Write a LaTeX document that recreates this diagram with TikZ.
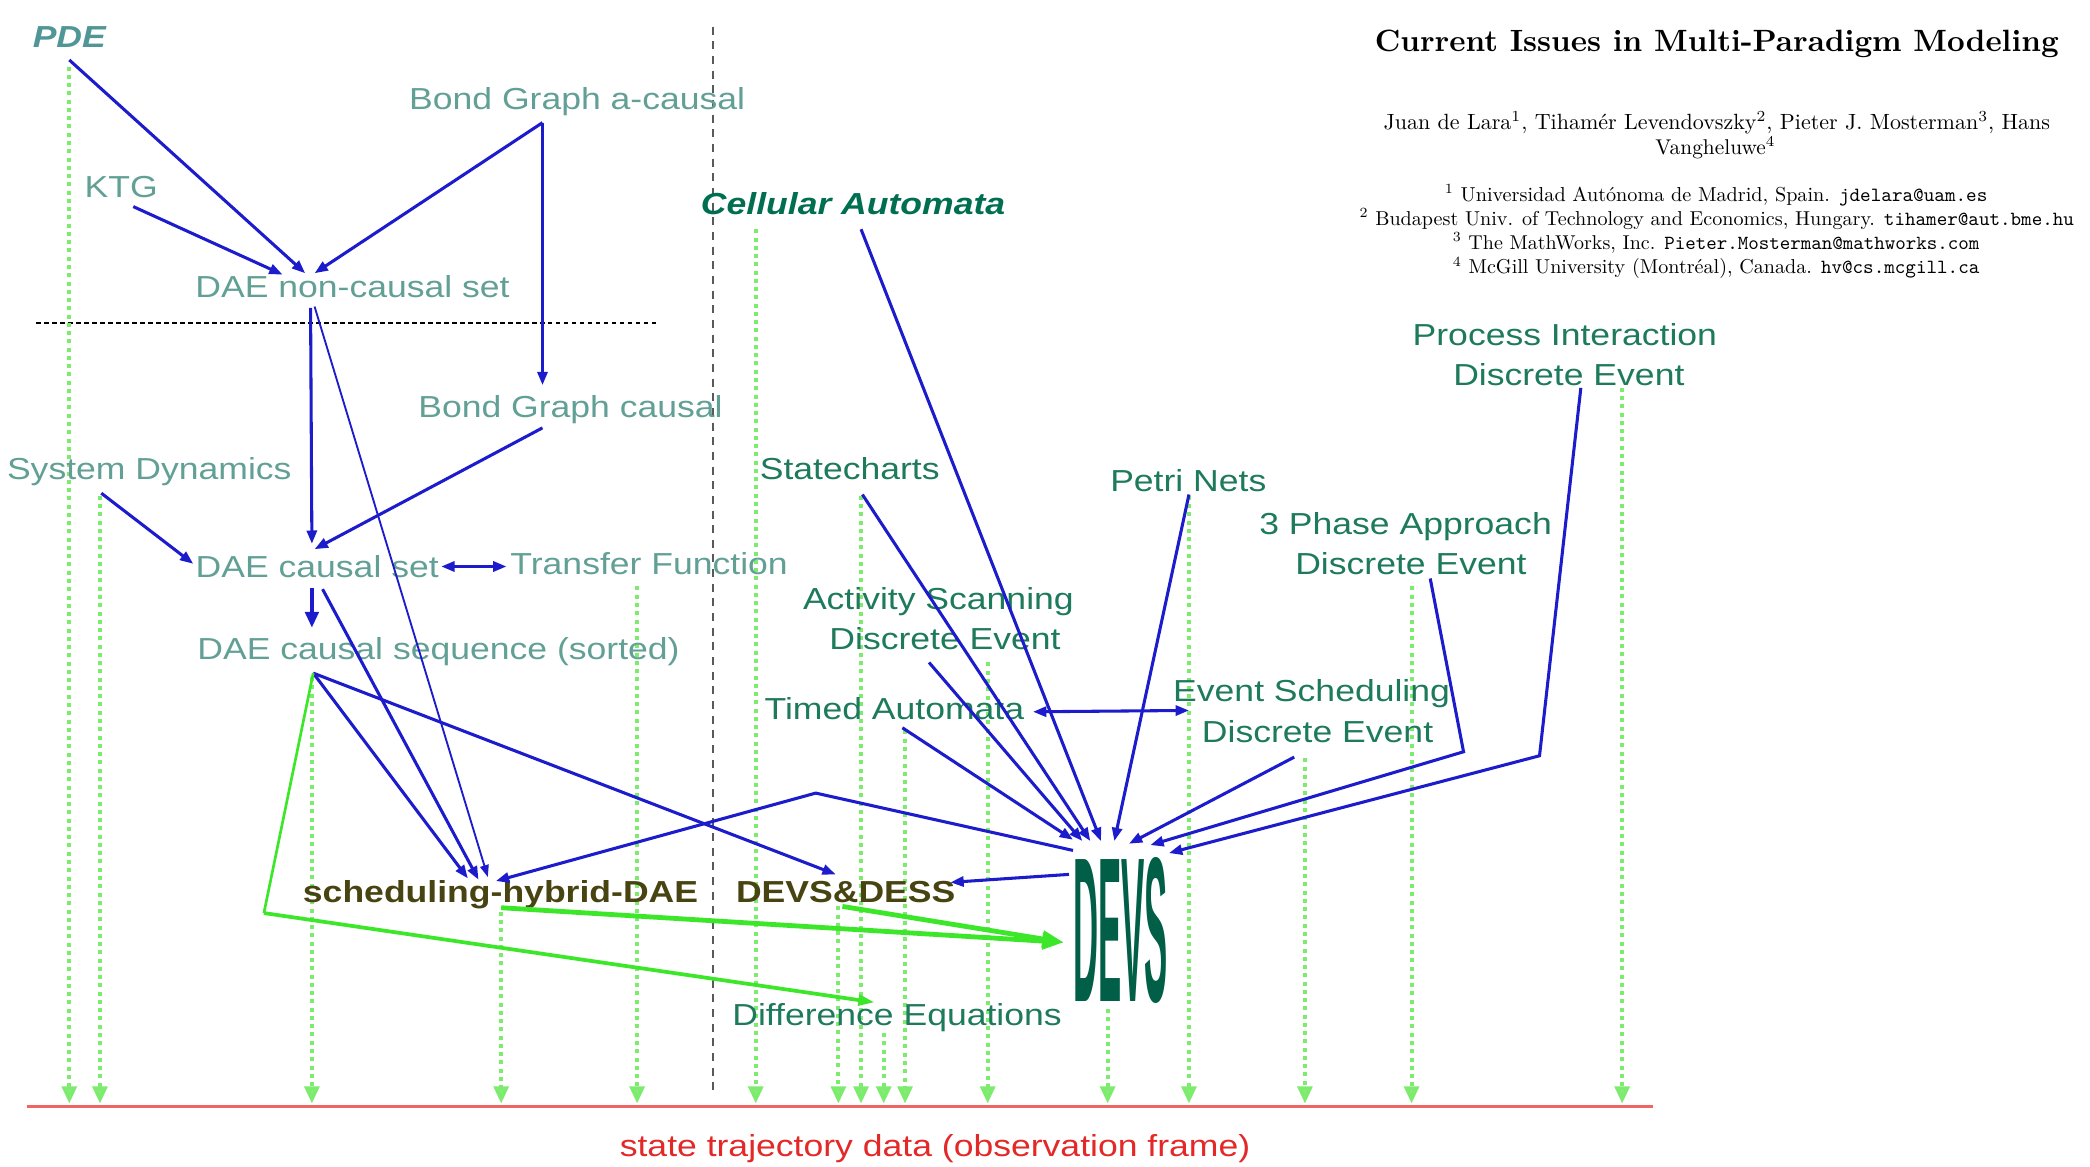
\documentclass[tikz,border=0pt]{standalone}
\usepackage{fontspec}
\usepackage{graphicx}
\usetikzlibrary{arrows.meta}
\newfontfamily\diagsans[FakeStretch=1.17]{Liberation Sans}

\definecolor{leftteal}{RGB}{98,160,150}
\definecolor{pdeteal}{RGB}{80,150,150}
\definecolor{rightgreen}{RGB}{30,122,92}
\definecolor{cagreen}{RGB}{0,110,80}
\definecolor{devsgreen}{RGB}{0,95,70}
\definecolor{hybolive}{RGB}{72,68,18}
\definecolor{arrblue}{RGB}{28,28,205}
\definecolor{brightgreen}{RGB}{60,230,40}
\definecolor{obsgreen}{RGB}{125,235,110}
\definecolor{obsred}{RGB}{240,100,100}
\definecolor{labred}{RGB}{228,40,40}

\tikzset{
  lbl/.style={inner sep=0pt, anchor=base, font=\diagsans\fontsize{22.8}{27}\selectfont},
  lft/.style={lbl, text=leftteal},
  rgt/.style={lbl, text=rightgreen},
  boldit/.style={font=\diagsans\fontsize{22.8}{27}\selectfont\bfseries\itshape},
  boldup/.style={font=\diagsans\fontsize{22.8}{27}\selectfont\bfseries},
  conn/.style={draw=arrblue, line width=2.3pt, -{Triangle[length=10pt,width=7.5pt]}},
  thinconn/.style={draw=arrblue, line width=1.4pt, -{Triangle[length=9pt,width=6.5pt]}},
  biconn/.style={draw=arrblue, line width=2.3pt, {Triangle[length=10pt,width=7.5pt]}-{Triangle[length=10pt,width=7.5pt]}},
  fatconn/.style={draw=arrblue, line width=3.6pt, -{Triangle[length=12pt,width=10pt]}},
  gline/.style={draw=brightgreen, line width=2pt},
  gconn/.style={draw=brightgreen, line width=2.8pt, -{Triangle[length=12pt,width=8pt]}},
  gfat/.style={draw=brightgreen, line width=3.6pt, -{Triangle[length=16pt,width=12pt]}},
  drop/.style={draw=obsgreen, line width=3pt, dash pattern=on 3pt off 3.2pt,
    -{Triangle[length=13pt,width=11pt,fill=obsgreen!90!white]}},
  tblock/.style={inner sep=0pt, anchor=base}
}

\begin{document}
\begin{tikzpicture}[x=1pt,y=-1pt]
\useasboundingbox (0,0) rectangle (1568,875.5);

% frame of observation and separators
\coordinate (frame-l) at (20,830);
\coordinate (frame-r) at (1240,830);
\draw[obsred, line width=2.6pt] (frame-l) -- (frame-r);
\coordinate (sep-top) at (535,20);
\coordinate (sep-bot) at (535,820);
\draw[black!65, line width=1.6pt, dash pattern=on 6pt off 5pt] (sep-top) -- (sep-bot);
\coordinate (cut-l) at (27,242);
\coordinate (cut-r) at (493,242);
\draw[black, line width=1.5pt, dash pattern=on 3.5pt off 2.5pt] (cut-l) -- (cut-r);

% projections onto the observation frame
\foreach \x/\y in {52/50, 75/372, 234/508, 376/684, 478/440, 567/172, 629/680,
                   646/372, 663/775, 679/548, 741/497, 831/757, 892/372,
                   979/569, 1059/440, 1217/291}
  \draw[drop] (\x,\y) -- (\x,828);

% continuous formalisms
\node[lft, boldit, text=pdeteal] (pde) at (52,36) {PDE};
\node[lft] (bga) at (433,82.5) {Bond Graph a-causal};
\node[lft] (ktg) at (91,148) {KTG};
\node[lft] (dnc) at (264.5,223) {DAE non-causal set};
\node[lft] (bgc) at (428,313) {Bond Graph causal};
\node[lft] (sd) at (112,360) {System Dynamics};
\node[lft] (dcs) at (238,433) {DAE causal set};
\node[lft] (tf) at (487,431) {Transfer Function};
\node[lft] (dseq) at (329,495) {DAE causal sequence (sorted)};

% discrete formalisms
\node[rgt, boldit, text=cagreen] (ca) at (640,161) {Cellular Automata};
\node[rgt] (sc) at (637.5,360) {Statecharts};
\node[rgt] (pn) at (891.5,369) {Petri Nets};
\node[rgt] (pi) at (1174,259) {Process Interaction};
\node[rgt] (pi2) at (1177,289) {Discrete Event};
\node[rgt] (tp) at (1054.5,401) {3 Phase Approach};
\node[rgt] (tp2) at (1058.5,431) {Discrete Event};
\node[rgt] (as) at (704,457.5) {Activity Scanning};
\node[rgt] (as2) at (709,487.5) {Discrete Event};
\node[rgt] (ta) at (671,540) {Timed Automata};
\node[rgt] (es) at (984,526.5) {Event Scheduling};
\node[rgt] (es2) at (988.5,557) {Discrete Event};
\node[rgt] (de) at (673,769) {Difference Equations};

% hybrid formalisms and DEVS
\node[lbl, boldup, text=hybolive] (shd) at (375.5,677) {scheduling-hybrid-DAE};
\node[lbl, boldup, text=hybolive] (dd) at (634.5,677) {DEVS\&DESS};
\node[inner sep=0pt, anchor=south west, text=devsgreen] (devs) at (805,753)
  {\resizebox{71pt}{108pt}{\diagsans\bfseries DEVS}};

\node[lbl, text=labred] (std) at (701.5,868) {state trajectory data (observation frame)};

% connector end points
\coordinate (pde-o) at (52,45);
\coordinate (ktg-o) at (100,155);
\coordinate (bga-o) at (407,92);
\coordinate (dnc-i1) at (229,205);
\coordinate (dnc-i2) at (212,206);
\coordinate (dnc-i3) at (236,205);
\coordinate (bgc-i) at (407,289);
\coordinate (dnc-o1) at (233,231);
\coordinate (dnc-o2) at (236,230);
\coordinate (dcs-i1) at (234,408);
\coordinate (bgc-o) at (407,321);
\coordinate (dcs-i2) at (236,412);
\coordinate (sd-o) at (76,370);
\coordinate (dcs-i3) at (145,423);
\coordinate (dcs-r) at (331,425);
\coordinate (tf-l) at (380,425);
\coordinate (dcs-o1) at (234,441);
\coordinate (dseq-i) at (234,471);
\coordinate (dcs-o2) at (242,442);
\coordinate (dseq-o) at (235,505);
\coordinate (shd-i1) at (351,659);
\coordinate (shd-i2) at (359,660);
\coordinate (shd-i3) at (366,658);
\coordinate (shd-i4) at (372,661);
\coordinate (dd-i1) at (627,656);
\coordinate (dd-i2) at (713,662);
\coordinate (ca-o) at (646,172);
\coordinate (sc-o) at (647,371);
\coordinate (as-o) at (697,497);
\coordinate (ta-o) at (677,546);
\coordinate (ta-r) at (775,534);
\coordinate (es-l) at (892,533);
\coordinate (pn-o) at (892,371);
\coordinate (es-o) at (971,568);
\coordinate (tp-o) at (1073,434);
\coordinate (tp-k) at (1098,564);
\coordinate (pi-o) at (1186,291);
\coordinate (pi-k) at (1155,567);
\coordinate (devs-i1) at (805,630);
\coordinate (devs-i2) at (812,631);
\coordinate (devs-i3) at (818,631);
\coordinate (devs-i4) at (826,631);
\coordinate (devs-i5) at (836,631);
\coordinate (devs-i6) at (847,633);
\coordinate (devs-i7) at (863,634);
\coordinate (devs-i8) at (877,640);
\coordinate (devs-o1) at (805,638);
\coordinate (devs-k) at (612,595);
\coordinate (devs-o2) at (802,656);
\coordinate (g-k) at (198,685);
\coordinate (de-i) at (656,752);
\coordinate (shd-o) at (376,681);
\coordinate (dd-o) at (632,680);
\coordinate (devs-g) at (798,707);

% transformations between continuous formalisms
\draw[conn] (pde-o) -- (dnc-i1);
\draw[conn] (ktg-o) -- (dnc-i2);
\draw[conn] (bga-o) -- (dnc-i3);
\draw[conn] (bga-o) -- (bgc-i);
\draw[conn] (dnc-o1) -- (dcs-i1);
\draw[thinconn] (dnc-o2) -- (shd-i3);
\draw[conn] (bgc-o) -- (dcs-i2);
\draw[conn] (sd-o) -- (dcs-i3);
\draw[biconn] (dcs-r) -- (tf-l);
\draw[fatconn] (dcs-o1) -- (dseq-i);
\draw[conn] (dcs-o2) -- (shd-i2);
\draw[conn] (dseq-o) -- (shd-i1);
\draw[conn] (dseq-o) -- (dd-i1);

% transformations into DEVS
\draw[conn] (ca-o) -- (devs-i4);
\draw[conn] (sc-o) -- (devs-i3);
\draw[conn] (as-o) -- (devs-i2);
\draw[conn] (ta-o) -- (devs-i1);
\draw[biconn] (ta-r) -- (es-l);
\draw[conn] (pn-o) -- (devs-i5);
\draw[conn] (es-o) -- (devs-i6);
\draw[conn] (tp-o) -- (tp-k) -- (devs-i7);
\draw[conn] (pi-o) -- (pi-k) -- (devs-i8);
\draw[conn] (devs-o1) -- (devs-k) -- (shd-i4);
\draw[conn] (devs-o2) -- (dd-i2);

% discretisations
\draw[gline] (dseq-o) -- (g-k);
\draw[gconn] (g-k) -- (de-i);
\draw[gfat] (shd-o) -- (devs-g);
\draw[gfat] (dd-o) -- (devs-g);

% title block
\node[tblock] (title) at (1288,39)
  {\resizebox{513pt}{!}{\bfseries Current Issues in Multi-Paradigm Modeling}};
\node[tblock] (auth1) at (1288,97)
  {\resizebox{500pt}{!}{Juan de Lara$^1$, Tihamér Levendovszky$^2$, Pieter J. Mosterman$^3$, Hans}};
\node[tblock] (auth2) at (1287,116) {\resizebox{90pt}{!}{Vangheluwe$^4$}};
\node[tblock] (aff1) at (1287.5,151)
  {\resizebox{407pt}{!}{$^1$\ Universidad Autónoma de Madrid, Spain. \texttt{jdelara@uam.es}}};
\node[tblock] (aff2) at (1288,169)
  {\resizebox{536pt}{!}{$^2$\ Budapest Univ. of Technology and Economics, Hungary. \texttt{tihamer@aut.bme.hu}}};
\node[tblock] (aff3) at (1287.5,187)
  {\resizebox{395pt}{!}{$^3$\ The MathWorks, Inc. \texttt{Pieter.Mosterman@mathworks.com}}};
\node[tblock] (aff4) at (1287.5,205.5)
  {\resizebox{395pt}{!}{$^4$\ McGill University (Montréal), Canada. \texttt{hv@cs.mcgill.ca}}};
\end{tikzpicture}
\end{document}
